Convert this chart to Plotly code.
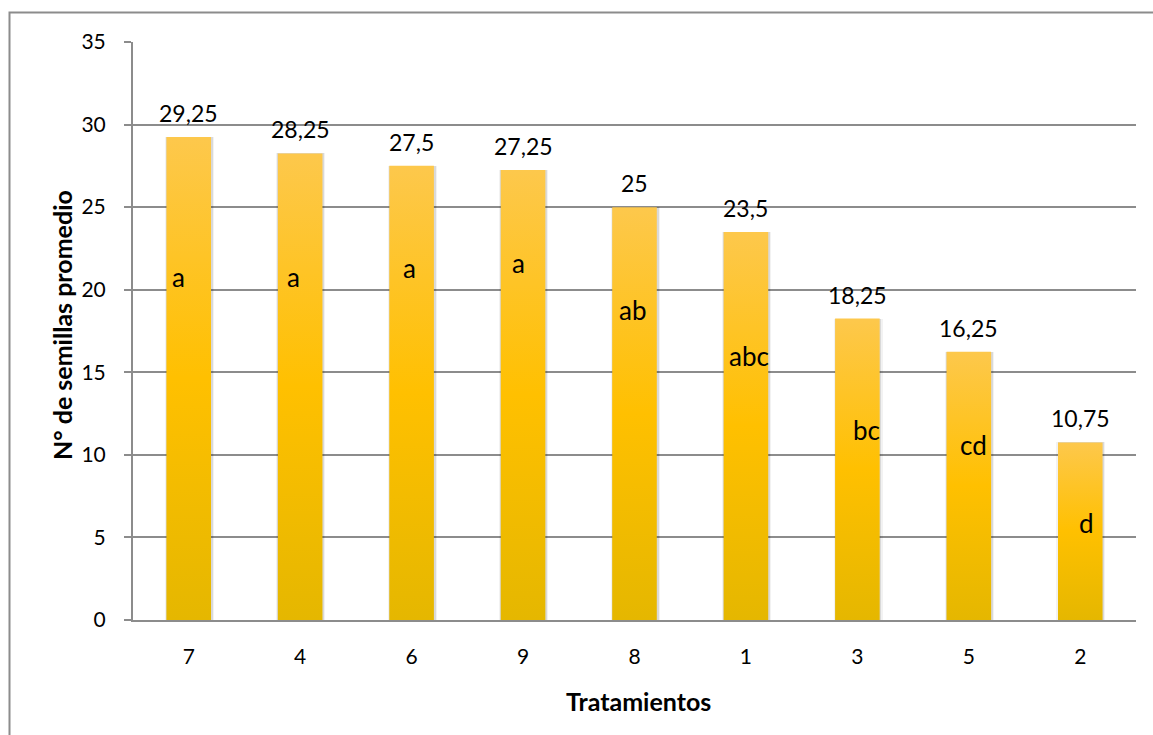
import plotly.graph_objects as go

# Mean seeds per treatment, ordered from highest to lowest
tratamientos = ["7", "4", "6", "9", "8", "1", "3", "5", "2"]
semillas = [29.25, 28.25, 27.5, 27.25, 25, 23.5, 18.25, 16.25, 10.75]
letras = ["a", "a", "a", "a", "ab", "abc", "bc", "cd", "d"]

# where each significance letter sits inside its bar (y units / x offset)
letra_y = [20.8, 20.8, 21.3, 21.6, 18.8, 16.0, 11.5, 10.6, 5.9]
letra_dx = [-0.09, -0.06, -0.02, -0.04, -0.02, 0.03, 0.08, 0.04, 0.06]

FONT = "Lato"
BAR_W = 0.40
idx = list(range(len(tratamientos)))

fig = go.Figure()

# soft drop shadow around each bar
for w, a in [(0.44, 0.05), (0.42, 0.10)]:
    fig.add_trace(go.Bar(
        x=[i + 0.006 for i in idx], y=semillas, width=w,
        marker=dict(color=f"rgba(0,0,0,{a})", line=dict(width=0)),
        hoverinfo="skip", showlegend=False,
    ))

# bars with a vertical gold gradient
for i, v in zip(idx, semillas):
    h = BAR_W / 2
    fig.add_trace(go.Scatter(
        x=[i - h, i + h, i + h, i - h, i - h],
        y=[0, 0, v, v, 0],
        mode="lines", fill="toself",
        line=dict(width=0, color="rgba(0,0,0,0)"),
        fillgradient=dict(
            type="vertical", start=0, stop=v,
            colorscale=[[0, "#E5B700"], [0.5, "#FFC000"], [1, "#FDC84C"]],
        ),
        hovertemplate=f"{tratamientos[i]}: {v}<extra></extra>",
        showlegend=False,
    ))

annotations = []
for i, v in zip(idx, semillas):
    annotations.append(dict(
        x=i, y=v, xref="x", yref="y",
        text=f"{v:g}".replace(".", ","),
        showarrow=False, yanchor="bottom", yshift=8,
        font=dict(family=FONT, size=23, color="#000000"),
    ))
for i, (t, ly, dx) in enumerate(zip(letras, letra_y, letra_dx)):
    annotations.append(dict(
        x=i + dx, y=ly, xref="x", yref="y", text=t,
        showarrow=False, xanchor="center", yanchor="middle",
        font=dict(family=FONT, size=26, color="#000000"),
    ))

# axis titles
annotations.append(dict(
    x=(62 - 133) / 1003, y=(620 - 325) / 578, xref="paper", yref="paper",
    xanchor="center", yanchor="middle",
    text="<b>N° de semillas promedio</b>", textangle=-90, showarrow=False,
    font=dict(family=FONT, size=25, color="#000000"),
))
annotations.append(dict(
    x=(638 - 133) / 1003, y=-(701 - 620) / 578, xref="paper", yref="paper",
    xanchor="center", yanchor="middle",
    text="<b>Tratamientos</b>", showarrow=False,
    font=dict(family=FONT, size=25, color="#000000"),
))

fig.update_layout(
    width=1153, height=735,
    margin=dict(l=133, r=17, t=42, b=115, autoexpand=False),
    paper_bgcolor="white", plot_bgcolor="white",
    barmode="overlay", bargap=0,
    font=dict(family=FONT, size=21, color="#000000"),
    annotations=annotations,
    shapes=[dict(
        type="rect", xref="paper", yref="paper",
        x0=(9.5 - 133) / 1003, x1=1.1, y0=-0.4, y1=1 + (42 - 12.5) / 578,
        line=dict(color="#8c8c8c", width=2), fillcolor="rgba(0,0,0,0)",
        layer="below",
    )],
)

fig.update_xaxes(
    range=[-0.5, len(tratamientos) - 0.5],
    tickmode="array", tickvals=idx, ticktext=tratamientos,
    showgrid=False, zeroline=False, ticks="",
    showline=True, linecolor="#8c8c8c", linewidth=2,
    ticklabelstandoff=17,
    tickfont=dict(family=FONT, size=21, color="#000000"),
)
fig.update_yaxes(
    range=[0, 35], dtick=5, tick0=0,
    showgrid=True, gridcolor="#8c8c8c", gridwidth=2,
    zeroline=False, showline=True, linecolor="#8c8c8c", linewidth=2,
    ticks="outside", ticklen=7, tickcolor="#8c8c8c", tickwidth=2,
    ticklabelstandoff=14,
    tickfont=dict(family=FONT, size=21, color="#000000"),
)

fig.write_html("out.html")
